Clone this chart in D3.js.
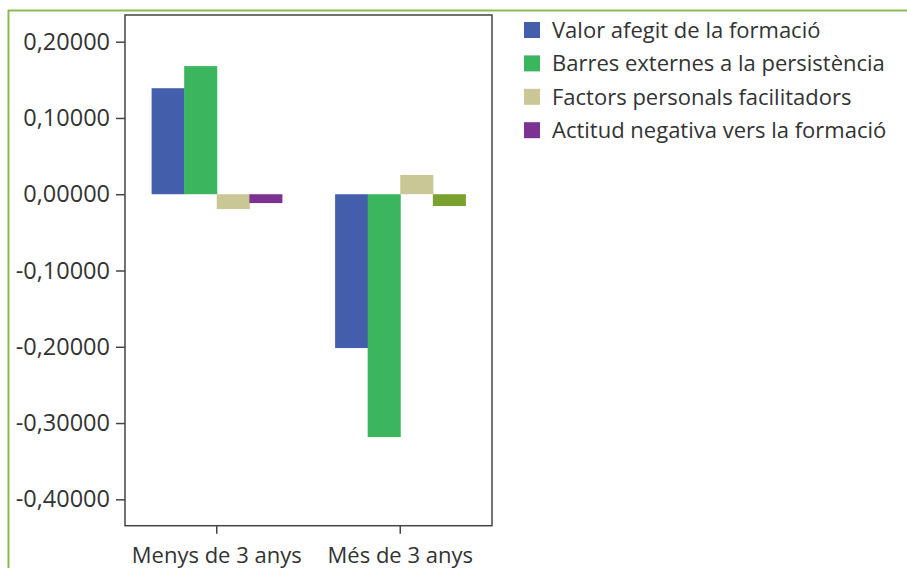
<!DOCTYPE html>
<html>
<head>
<meta charset="utf-8">
<script src="https://cdn.jsdelivr.net/npm/d3@7"></script>
<style>
  body { margin: 0; background: #fff; }
  svg text { font-family: "Open Sans", "Noto Sans", sans-serif; fill: #333; }
</style>
</head>
<body>
<div id="chart"></div>
<script>
// Chart data
const categories = ['Menys de 3 anys', 'Més de 3 anys'];
const series = [
    'Valor afegit de la formació',
    'Barres externes a la persistència',
    'Factors personals facilitadors',
    'Actitud negativa vers la formació'
];
const valorAfegit = [0.139, -0.2017];
const barresExternes = [0.168, -0.3184];
const factorsPersonals = [-0.0194, 0.0252];
const actitudNegativa = [-0.0116, -0.0155];
const yTicks = [0.2, 0.1, 0, -0.1, -0.2, -0.3, -0.4];

const seriesValues = [valorAfegit, barresExternes, factorsPersonals, actitudNegativa];
const colors = ['#435fab', '#3cb55f', '#c9c795', '#7b3290'];
// the last bar of the second group is drawn in olive in the original
const barColor = (s, c) => (s === 3 && c === 1) ? '#7aa02f' : colors[s];

const width = 907, height = 568;
const plot = { left: 125, right: 492, top: 15, bottom: 525.7 };

const svg = d3.select('#chart').append('svg')
    .attr('width', width)
    .attr('height', height);

// Green frame lines
svg.append('line')
    .attr('x1', 8).attr('x2', width).attr('y1', 10.5).attr('y2', 10.5)
    .attr('stroke', '#8cba50').attr('stroke-width', 2);
svg.append('line')
    .attr('x1', 8.5).attr('x2', 8.5).attr('y1', 10).attr('y2', height)
    .attr('stroke', '#8cba50').attr('stroke-width', 2);

const y = d3.scaleLinear()
    .domain([-0.4346, 0.235])
    .range([plot.bottom, plot.top]);

const x0 = d3.scaleBand()
    .domain(categories)
    .range([plot.left, plot.right])
    .paddingInner(0.29)
    .paddingOuter(0.145);

const x1 = d3.scaleBand()
    .domain(d3.range(series.length))
    .range([0, x0.bandwidth()]);

// Bars
const bars = [];
categories.forEach((c, ci) => {
    seriesValues.forEach((vals, si) => {
        bars.push({ cat: c, ci: ci, si: si, value: vals[ci] });
    });
});

svg.append('g')
    .selectAll('rect')
    .data(bars)
    .enter()
    .append('rect')
    .attr('x', d => x0(d.cat) + x1(d.si))
    .attr('width', x1.bandwidth() + 0.5)
    .attr('y', d => y(Math.max(0, d.value)))
    .attr('height', d => Math.abs(y(d.value) - y(0)))
    .attr('fill', d => barColor(d.si, d.ci));

// Plot box
svg.append('rect')
    .attr('x', plot.left).attr('y', plot.top)
    .attr('width', plot.right - plot.left)
    .attr('height', plot.bottom - plot.top)
    .attr('fill', 'none')
    .attr('stroke', '#444')
    .attr('stroke-width', 1.5);

// Y axis
const yAxis = svg.append('g')
    .attr('transform', `translate(${plot.left},0)`)
    .call(d3.axisLeft(y)
        .tickValues(yTicks)
        .tickSize(9)
        .tickPadding(6)
        .tickFormat(d => d3.format('.5f')(d).replace('.', ',').replace('−', '-')));
yAxis.select('.domain').remove();
yAxis.selectAll('.tick line').attr('stroke', '#444').attr('stroke-width', 1.5);
yAxis.selectAll('.tick text')
    .attr('font-size', 23.5)
    .attr('fill', '#333')
    .style('font-family', '"Open Sans", sans-serif');

// X axis
const xAxis = svg.append('g')
    .attr('transform', `translate(0,${plot.bottom})`)
    .call(d3.axisBottom(x0).tickSize(8).tickPadding(14));
xAxis.select('.domain').remove();
xAxis.selectAll('.tick line').attr('stroke', '#444').attr('stroke-width', 1.5);
xAxis.selectAll('.tick text')
    .attr('font-size', 22)
    .attr('fill', '#333')
    .style('font-family', '"Open Sans", sans-serif');

// Legend
const legend = svg.append('g')
    .attr('transform', 'translate(524,22)');
const rows = legend.selectAll('g')
    .data(series)
    .enter()
    .append('g')
    .attr('transform', (d, i) => `translate(0,${i * 33.4})`);
rows.append('rect')
    .attr('width', 16).attr('height', 16)
    .attr('fill', (d, i) => colors[i]);
rows.append('text')
    .attr('x', 28)
    .attr('y', 8)
    .attr('dy', '0.35em')
    .attr('font-size', 22)
    .text(d => d);
</script>
</body>
</html>
